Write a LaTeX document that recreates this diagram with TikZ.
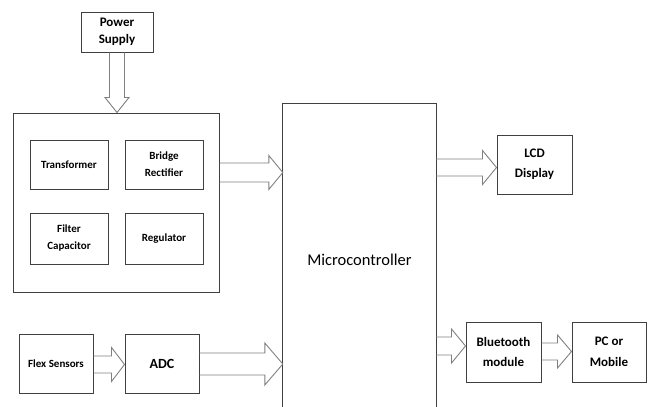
\documentclass[tikz,border=0pt]{standalone}
\usepackage{fontspec}
\setmainfont{Carlito}
\usetikzlibrary{calc}
\definecolor{boxc}{HTML}{404040}
\definecolor{arrc}{HTML}{808080}
\newcommand\harrow[6]{\draw[barrow] let \p1=(#1.east), \p2=(#2.west), \p3=(0,#3) in
  (\x1,\y3+#4) -- (\x2-#6,\y3+#4) -- (\x2-#6,\y3+#5) -- (\x2,\y3) -- (\x2-#6,\y3-#5) -- (\x2-#6,\y3-#4) -- (\x1,\y3-#4);}
\begin{document}
\begin{tikzpicture}[x=1pt,y=-1pt,
  box/.style={draw=boxc, line width=1pt, rectangle, inner sep=0pt, align=center},
  bigtxt/.style={font={\bfseries\fontsize{13}{16.7}\selectfont}},
  rtxt/.style={font={\bfseries\fontsize{13}{20.5}\selectfont}},
  smalltxt/.style={font={\bfseries\fontsize{11}{17}\selectfont}},
  barrow/.style={draw=arrc, line width=0.9pt, line join=miter}]
\useasboundingbox (0,0) rectangle (648,407);
% power supply
\node[box,bigtxt,minimum width=72pt,minimum height=40pt] (ps) at (117,32) {Power\\Supply};
\node[box,minimum width=206pt,minimum height=179pt] (psu) at (116,202.5) {};
\node[box,smalltxt,minimum width=78pt,minimum height=49pt] (tr) at (69,164.5) {Transformer};
\node[box,smalltxt,minimum width=78pt,minimum height=49pt] (br) at (164,164.5) {Bridge\\Rectifier};
\node[box,smalltxt,minimum width=78pt,minimum height=51pt] (fc) at (69,238.5) {Filter\\Capacitor};
\node[box,smalltxt,minimum width=78pt,minimum height=51pt] (reg) at (164,238.5) {Regulator};
% microcontroller (open at the bottom)
\node[rectangle,inner sep=0pt,minimum width=153pt,minimum height=312pt,
  font={\fontsize{16.5}{20}\selectfont}] (mc) at (359.5,260) {Microcontroller};
\draw[draw=boxc,line width=1pt] (mc.west |- 0,407) -- (mc.north west) -- (mc.north east) -- (mc.east |- 0,407);
% outputs
\node[box,rtxt,minimum width=75pt,minimum height=59pt] (lcd) at (534.5,164.5) {LCD\\Display};
\node[box,rtxt,minimum width=75pt,minimum height=60pt] (bt) at (503.5,352) {Bluetooth\\module};
\node[box,rtxt,minimum width=74pt,minimum height=60pt] (pc) at (609,352) {PC or\\Mobile};
% sensors
\node[box,smalltxt,minimum width=74pt,minimum height=59pt] (flex) at (56,363.5) {Flex Sensors};
\node[box,font={\bfseries\fontsize{14}{17}\selectfont},minimum width=74pt,minimum height=59pt] (adc) at (162,363.5) {ADC};
% block arrows
\draw[barrow] let \p1=(ps.south), \p2=(psu.north) in
  (\x1-7.5pt,\y1) -- (\x1-7.5pt,\y2+15pt) -- (\x1-12pt,\y2+15pt) -- (\x1,\y2) -- (\x1+12pt,\y2+15pt) -- (\x1+7.5pt,\y2+15pt) -- (\x1+7.5pt,\y1);
\harrow{psu}{mc}{172.5}{9.5pt}{17pt}{14pt}
\harrow{mc}{lcd}{167.5}{8.5pt}{17pt}{14pt}
\harrow{mc}{bt}{346}{9pt}{17pt}{14pt}
\harrow{bt}{pc}{351.5}{8.5pt}{16.5pt}{14pt}
\harrow{flex}{adc}{364.5}{8.5pt}{17pt}{13pt}
\harrow{adc}{mc}{364}{11pt}{21pt}{18pt}
\end{tikzpicture}
\end{document}
